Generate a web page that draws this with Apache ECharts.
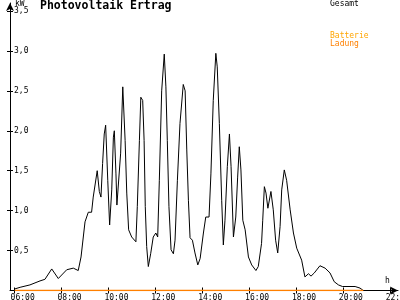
<!DOCTYPE html>
<html>
<head>
<meta charset="utf-8">
<script src="https://cdn.jsdelivr.net/npm/echarts@6/dist/echarts.min.js"></script>
<style>html,body{margin:0;padding:0;background:#fff}#c{width:400px;height:300px}</style>
</head>
<body>
<div id="c"></div>
<script>
// Time of day in hours (decimal) and total PV output in kW
const times = [6.01,6.23,6.65,7.08,7.29,7.58,7.86,8.22,8.50,8.71,8.83,9.00,9.14,9.28,9.35,9.52,9.61,9.68,9.75,9.82,9.88,9.97,10.05,10.14,10.21,10.25,10.32,10.36,10.44,10.52,10.61,10.71,10.78,10.86,10.99,11.17,11.23,11.32,11.38,11.46,11.52,11.57,11.63,11.70,11.80,11.91,12.02,12.10,12.17,12.27,12.38,12.45,12.51,12.58,12.67,12.77,12.84,12.94,13.05,13.19,13.27,13.34,13.41,13.48,13.58,13.69,13.81,13.91,14.05,14.15,14.22,14.29,14.37,14.47,14.58,14.64,14.73,14.83,14.90,14.97,15.07,15.16,15.23,15.33,15.43,15.51,15.58,15.65,15.73,15.83,15.97,16.11,16.29,16.39,16.53,16.58,16.65,16.72,16.80,16.93,17.03,17.13,17.22,17.32,17.39,17.50,17.60,17.75,17.89,18.03,18.24,18.38,18.53,18.64,18.78,19.02,19.24,19.45,19.63,19.81,19.98,20.52,20.73,20.87];
const gesamt = [0.02,0.04,0.07,0.12,0.14,0.27,0.15,0.26,0.28,0.25,0.42,0.86,0.98,0.98,1.17,1.50,1.24,1.17,1.59,1.96,2.07,1.38,0.82,1.26,1.92,2.00,1.46,1.07,1.07,1.72,2.55,1.88,1.22,0.76,0.67,0.61,1.05,1.88,2.42,2.38,1.88,1.05,0.55,0.30,0.46,0.67,0.72,0.67,1.38,2.50,2.96,2.55,1.88,1.05,0.51,0.46,0.63,1.38,2.09,2.58,2.50,1.76,1.13,0.66,0.63,0.47,0.32,0.40,0.72,0.92,0.90,0.92,1.46,2.38,2.97,2.80,2.09,1.13,0.57,0.88,1.55,1.96,1.55,0.67,0.92,1.42,1.80,1.51,0.88,0.76,0.42,0.32,0.25,0.30,0.59,0.88,1.30,1.22,1.03,1.24,1.01,0.63,0.47,0.80,1.26,1.51,1.38,1.01,0.72,0.53,0.38,0.17,0.21,0.18,0.22,0.31,0.28,0.22,0.11,0.07,0.05,0.05,0.03,0.00];
// Battery charging (Ladung) in kW
const ladungTimes = [6.00, 20.87];
const ladung = [0, 0];
// Axis ticks
const xTicks = [6, 8, 10, 12, 14, 16, 18, 20, 22];
const yTicks = [0.5, 1.0, 1.5, 2.0, 2.5, 3.0, 3.5];

const FONT = '"DejaVu Sans Mono", monospace';
const LABEL_SHIFT = 0.34; // hours, label centre offset right of tick
const zip = (a, b) => a.map((t, i) => [t, b[i]]);

const chart = echarts.init(document.getElementById('c'), null, {renderer: 'canvas'});
const xBase = {
  type: 'value', min: 5.8, max: 22.35, gridIndex: 0,
  splitLine: {show: false}
};
const yBase = {
  type: 'value', min: 0, max: 3.6, position: 'left', offset: 0,
  splitLine: {show: false}
};
chart.setOption({
  animation: false,
  backgroundColor: '#fff',
  grid: {left: 10, right: 2, top: 3, bottom: 9.5, containLabel: false, outerBoundsMode: 'none'},
  xAxis: [
    Object.assign({}, xBase, {
      axisLine: {show: true, lineStyle: {color: '#000', width: 1}, symbol: ['none', 'arrow'], symbolSize: [6, 8]},
      axisTick: {show: true, length: 3, inside: false, customValues: xTicks, lineStyle: {color: '#000'}},
      axisLabel: {show: true, margin: 3, fontFamily: FONT, fontSize: 8, color: '#000',
        hideOverlap: false,
        customValues: xTicks.map(v => v + LABEL_SHIFT),
        formatter: v => String(Math.floor(v)).padStart(2, '0') + ':00'}
    }),
    Object.assign({}, xBase, {
      position: 'bottom',
      axisLine: {show: false},
      axisTick: {show: true, length: 3, inside: true, customValues: xTicks, lineStyle: {color: '#000'}},
      axisLabel: {show: false}
    })
  ],
  yAxis: [
    Object.assign({}, yBase, {
      axisLine: {show: true, lineStyle: {color: '#000', width: 1}, symbol: ['none', 'arrow'], symbolSize: [6, 8]},
      axisTick: {show: true, length: 3, inside: false, customValues: yTicks, lineStyle: {color: '#000'}},
      axisLabel: {show: true, inside: true, margin: 4, fontFamily: FONT, fontSize: 8, color: '#000',
        customValues: yTicks,
        formatter: v => v.toFixed(1).replace('.', ',')}
    }),
    Object.assign({}, yBase, {
      axisLine: {show: false},
      axisTick: {show: true, length: 3, inside: true, customValues: yTicks, lineStyle: {color: '#000'}},
      axisLabel: {show: false}
    })
  ],
  series: [
    {name: 'Gesamt', type: 'line', xAxisIndex: 0, yAxisIndex: 0, data: zip(times, gesamt),
      showSymbol: false, symbol: 'none', lineStyle: {color: '#000', width: 1}, z: 3},
    {name: 'Ladung', type: 'line', xAxisIndex: 0, yAxisIndex: 0, data: zip(ladungTimes, ladung),
      showSymbol: false, symbol: 'none', lineStyle: {color: '#FF8000', width: 1.5}, z: 4}
  ],
  graphic: [
    {type: 'text', left: 40, top: 0.5, style: {text: 'Photovoltaik Ertrag', font: 'bold 11.5px ' + FONT, fill: '#000'}},
    {type: 'text', left: 15, top: 0, style: {text: 'kW', font: '8px ' + FONT, fill: '#000'}},
    {type: 'text', left: 330, top: 0, style: {text: 'Gesamt', font: '8px ' + FONT, fill: '#000'}},
    {type: 'text', left: 330, top: 31.5, style: {text: 'Batterie', font: '8px ' + FONT, fill: '#FFA500'}},
    {type: 'text', left: 330, top: 40, style: {text: 'Ladung', font: '8px ' + FONT, fill: '#FF8000'}},
    {type: 'text', left: 385, top: 277, style: {text: 'h', font: '8px ' + FONT, fill: '#000'}}
  ]
});
</script>
</body>
</html>
